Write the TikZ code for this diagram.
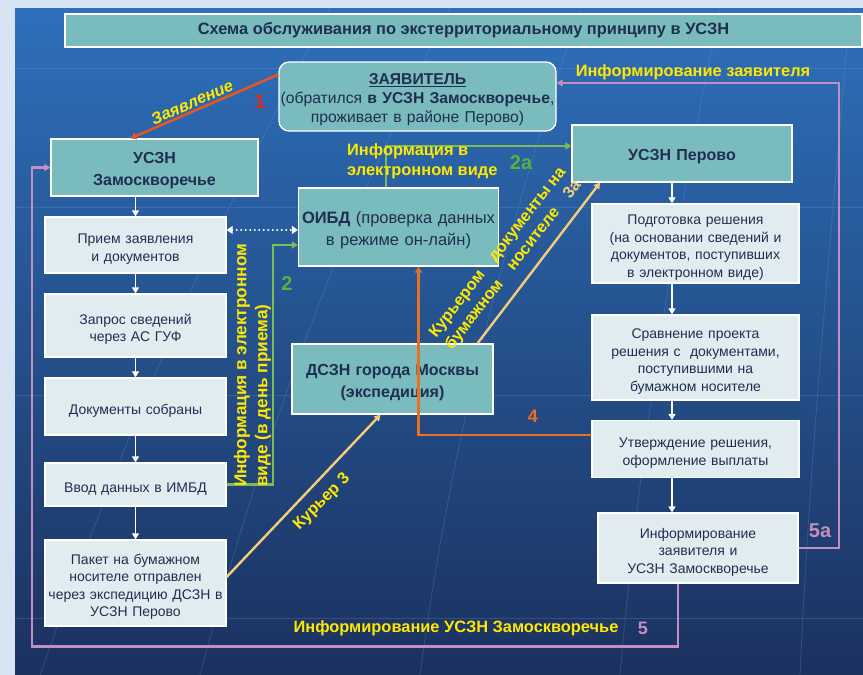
\documentclass[tikz,border=0pt]{standalone}
\usepackage{fontspec}
\setmainfont{Liberation Sans}
\usetikzlibrary{arrows.meta}

\definecolor{tealfill}{RGB}{122,188,190}
\definecolor{lightfill}{RGB}{225,236,241}
\definecolor{navytext}{RGB}{32,46,80}
\definecolor{labelyellow}{RGB}{255,232,0}
\definecolor{courier}{RGB}{245,205,120}
\definecolor{linegreen}{RGB}{125,187,85}
\definecolor{numgreen}{RGB}{90,175,65}
\definecolor{lineorange}{RGB}{232,112,35}
\definecolor{linered}{RGB}{226,86,40}
\definecolor{numred}{RGB}{222,42,30}
\definecolor{linepink}{RGB}{196,142,192}
\definecolor{panelback}{RGB}{216,228,244}
\definecolor{paneltop}{RGB}{46,112,187}
\definecolor{panelmid}{RGB}{36,84,150}
\definecolor{panelbot}{RGB}{27,49,94}
\definecolor{gridline}{RGB}{110,160,225}

\tikzset{
  lowered/.style={execute at begin node={\noindent\rule{0pt}{18pt}}},
  tealbox/.style={draw=white, line width=1.3pt, fill=tealfill, text=navytext,
    font=\fontsize{16}{22}\selectfont\bfseries, align=center, inner sep=0pt, lowered},
  lightbox/.style={draw=white, line width=1.3pt, fill=lightfill, text=navytext,
    font=\fontsize{14}{17.5}\selectfont, align=center, inner sep=0pt, lowered},
  leftbox/.style={lightbox, minimum width=181pt, text width=181pt},
  rightbox/.style={lightbox, minimum width=207pt, text width=205pt},
  ylabel/.style={text=labelyellow, font=\fontsize{16.4}{20}\selectfont\bfseries, inner sep=0pt},
  numlabel/.style={font=\fontsize{20}{20}\selectfont\bfseries, inner sep=0pt},
  tip/.style={-{Triangle[length=6pt,width=7pt]}},
  flowline/.style={white, line width=1.3pt, tip},
  globeline/.style={gridline, line width=0.8pt, opacity=0.25},
}

\begin{document}
\begin{tikzpicture}[x=1pt, y=-1pt]
    \useasboundingbox (0,0) rectangle (863,675);
    \fill[panelback] (0,0) rectangle (863,675);
    \shade[top color=paneltop, middle color=panelmid, bottom color=panelbot] (15,8) rectangle (863,675);

    \foreach \gy in {68,207,395,618}
        \draw[globeline] (15,\gy) -- (863,\gy);
    \draw[globeline] (40,675) .. controls (120,450) and (200,250) .. (330,8);
    \draw[globeline] (200,675) .. controls (260,450) and (330,250) .. (450,8);
    \draw[globeline] (420,675) .. controls (450,450) and (500,250) .. (580,8);
    \draw[globeline] (620,675) .. controls (640,450) and (670,250) .. (720,8);
    \draw[globeline] (800,675) .. controls (810,450) and (830,250) .. (850,8);

    \node[draw=white, line width=1.3pt, fill=tealfill, text=navytext, inner sep=0pt,
        minimum width=797pt, minimum height=33pt, font=\fontsize{16.4}{18}\selectfont\bfseries] (title) at (463.5,30.5)
        {Схема обслуживания по экстерриториальному принципу в УСЗН};

    \node[tealbox, rounded corners=10pt, minimum width=277pt, text width=277pt, minimum height=69pt,
        font=\fontsize{15.7}{19}\selectfont] (applicant) at (417.5,96.5)
        {\underline{\textbf{ЗАЯВИТЕЛЬ}}\\(обратился \textbf{в УСЗН Замоскворечье},\\проживает в районе Перово)};

    \node[tealbox, minimum width=207pt, text width=207pt, minimum height=57pt] (zamosk) at (154.5,167.5) {УСЗН\\Замоскворечье};
    \node[tealbox, minimum width=200pt, text width=200pt, minimum height=78pt, font=\fontsize{16.5}{22}\selectfont] (oibd) at (398.5,227)
        {\textbf{ОИБД} (проверка данных\\в режиме он-лайн)};
    \node[tealbox, minimum width=201pt, text width=201pt, minimum height=70pt] (dszn) at (392.5,379) {ДСЗН города Москвы\\(экспедиция)};
    \node[tealbox, minimum width=220pt, text width=220pt, minimum height=57pt] (perovo) at (682,153.5) {УСЗН Перово};

    \node[leftbox, minimum height=56pt] (intake) at (135.5,245) {Прием заявления\\и документов};
    \node[leftbox, minimum height=63pt] (request) at (135.5,325.5) {Запрос сведений\\через АС ГУФ};
    \node[leftbox, minimum height=57pt] (collected) at (135.5,406.5) {Документы собраны};
    \node[leftbox, minimum height=43pt] (entry) at (135.5,484.5) {Ввод данных в ИМБД};
    \node[leftbox, minimum height=86pt] (parcel) at (135.5,583)
        {Пакет на бумажном\\носителе отправлен\\через экспедицию ДСЗН в\\УСЗН Перово};

    \node[rightbox, minimum height=79pt] (prepare) at (695.5,243.5)
        {Подготовка решения\\(на основании сведений и\\документов, поступивших\\в электронном виде)};
    \node[rightbox, minimum height=85pt] (compare) at (695.5,357.5)
        {Сравнение проекта\\решения с~ документами,\\поступившими на\\бумажном носителе};
    \node[rightbox, minimum height=57pt] (approve) at (695.5,449) {Утверждение решения,\\оформление выплаты};
    \node[lightbox, minimum width=200pt, text width=198pt, minimum height=70pt] (inform) at (698,548)
        {Информирование\\заявителя и\\УСЗН Замоскворечье};

    \draw[flowline] (zamosk.south -| intake.north) -- (intake.north);
    \draw[flowline] (intake.south) -- (request.north);
    \draw[flowline] (request.south) -- (collected.north);
    \draw[flowline] (collected.south) -- (entry.north);
    \draw[flowline] (entry.south) -- (parcel.north);

    \draw[flowline] ([xshift=-10pt]perovo.south) -- ([xshift=-10pt]perovo.south |- prepare.north);
    \draw[flowline] ([xshift=-23.5pt]prepare.south) -- ([xshift=-23.5pt]compare.north);
    \draw[flowline] ([xshift=-23.5pt]compare.south) -- ([xshift=-23.5pt]approve.north);
    \draw[flowline] ([xshift=-23.5pt]approve.south) -- ([xshift=-23.5pt]approve.south |- inform.north);

    \draw[white, line width=2.4pt, line cap=round, dash pattern=on 0pt off 4.5pt,
        {Triangle[length=6pt,width=8pt]}-{Triangle[length=6pt,width=8pt]}]
        ([yshift=15pt]intake.east) -- ([yshift=15pt]intake.east -| oibd.west);

    \draw[linered, line width=2.6pt, tip] ([yshift=22pt]applicant.west) -- ([xshift=-24pt]zamosk.north);

    \coordinate (bendtwo) at (273,245);
    \draw[linegreen, line width=2.4pt, tip] (entry.east) -| (bendtwo) -- (bendtwo -| oibd.west);

    \coordinate (bendtwoa) at (386,146);
    \draw[linegreen, line width=2.4pt, tip] (bendtwoa |- oibd.north) -- (bendtwoa) -- (bendtwoa -| perovo.west);

    \draw[courier, line width=2.4pt, tip] ([yshift=6pt]parcel.east) -- ([xshift=-12pt]dszn.south);
    \draw[courier, line width=2.4pt, tip] ([xshift=85pt]dszn.north) -- ([xshift=-82pt]perovo.south);

    \draw[lineorange, line width=2.8pt, tip] ([yshift=14pt]approve.west) -| ([xshift=20pt]oibd.south);

    \coordinate (cornerfive) at (32,646.5);
    \draw[linepink, line width=2.6pt, tip] ([xshift=-20pt]inform.south) |- (cornerfive) |- (zamosk.west);

    \coordinate (cornerfivea) at (839,83);
    \draw[linepink, line width=2.6pt, tip] (inform.east) -| (cornerfivea) -- (cornerfivea -| applicant.east);

    \node[ylabel, rotate=24, font=\fontsize{16.5}{18}\selectfont\bfseries\itshape] (lblclaim) at (192,102) {Заявление};
    \node[numlabel, text=numred] (numone) at (260,102) {1};
    \node[ylabel] (lblinfoapp) at (693,72) {Информирование заявителя};
    \node[ylabel, anchor=west, align=left] (lblelectr) at (347,161) {Информация в\\электронном виде};
    \node[numlabel, text=numgreen] (numtwoa) at (521,163) {2а};
    \node[ylabel, rotate=90, anchor=west, align=left, font=\fontsize{17.2}{21}\selectfont\bfseries] (lblsameday) at (252.5,487)
        {Информация в электронном\\виде (в день приема)};
    \node[numlabel, text=numgreen] (numtwo) at (287,284) {2};
    \node[ylabel, rotate=45] (lblcourier) at (322,502) {Курьер 3};
    \node[ylabel, rotate=52, align=center] (lblpaper) at (506,259)
        {Курьером\quad документы на\\бумажном\quad носителе\quad\textcolor{courier}{3а}};
    \node[numlabel, text=lineorange, font=\fontsize{18}{18}\selectfont\bfseries] (numfour) at (533,416) {4};
    \node[ylabel] (lblinfozam) at (456,628) {Информирование УСЗН Замоскворечье};
    \node[numlabel, text=linepink, font=\fontsize{18}{18}\selectfont\bfseries] (numfive) at (643,628) {5};
    \node[numlabel, text=linepink] (numfivea) at (820,531) {5а};
\end{tikzpicture}
\end{document}
